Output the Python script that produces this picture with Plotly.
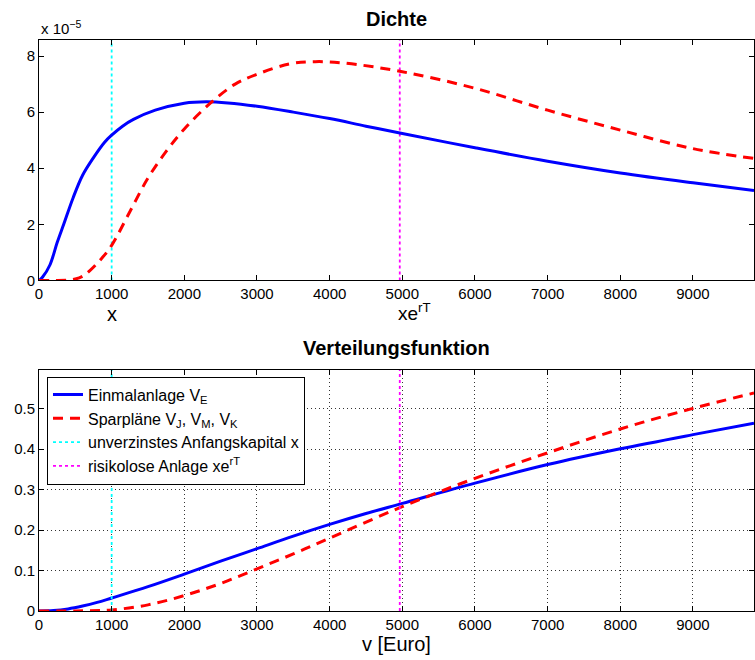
import plotly.graph_objects as go
from plotly.subplots import make_subplots

# ---- data ----
# Density, in units of 1e-5
dens_blue_v = [0, 50, 150, 250, 340, 470, 600, 750, 900, 1000, 1150, 1300, 1600, 2000, 2300, 2600,
               3000, 3500, 4000, 4500, 5000, 6000, 7000, 8000, 9000, 9840]
dens_blue = [0, 0.12, 0.55, 1.35, 2.0, 2.95, 3.75, 4.38, 4.92, 5.18, 5.5, 5.74, 6.07, 6.32, 6.37, 6.33,
             6.21, 6.0, 5.77, 5.5, 5.24, 4.73, 4.25, 3.83, 3.48, 3.21]
dens_red_v = [0, 200, 400, 500, 600, 700, 850, 1000, 1250, 1500, 1750, 2000, 2350, 2700, 3000, 3450,
              3800, 4200, 5000, 6000, 7000, 8000, 9000, 9840]
dens_red = [0, 0, 0.01, 0.05, 0.15, 0.35, 0.75, 1.25, 2.45, 3.65, 4.6, 5.4, 6.3, 7.0, 7.35, 7.72,
            7.8, 7.75, 7.44, 6.85, 6.07, 5.36, 4.70, 4.35]

# Distribution function
cdf_blue_v = [0, 200, 400, 600, 800, 1000, 1500, 2000, 2500, 3000, 3500, 4000, 4500, 5000,
              6000, 7000, 8000, 9000, 9840]
cdf_blue = [0, 0.001, 0.005, 0.012, 0.021, 0.032, 0.06, 0.091, 0.123, 0.154, 0.185, 0.214,
            0.241, 0.266, 0.316, 0.362, 0.401, 0.436, 0.464]
cdf_red_v = [0, 500, 700, 1000, 1500, 2000, 2500, 3000, 3500, 4000, 5000, 6000, 7000, 8000,
             9000, 9840]
cdf_red = [0, 0.0001, 0.0004, 0.0025, 0.015, 0.038, 0.068, 0.104, 0.141, 0.18, 0.258, 0.328,
           0.391, 0.45, 0.501, 0.539]

x_capital = 1000      # unverzinstes Anfangskapital x
x_riskfree = 4965     # risikolose Anlage x e^{rT}

x_ticks = [0, 1000, 2000, 3000, 4000, 5000, 6000, 7000, 8000, 9000]
dens_ticks = [0, 2, 4, 6, 8]
cdf_ticks = [0, 0.1, 0.2, 0.3, 0.4, 0.5]

x_range = [0, 9840]
dens_range = [0, 8.57]
cdf_range = [0, 0.597]

names = ["Einmalanlage V<sub>E</sub>",
         "Sparpläne V<sub>J</sub>, V<sub>M</sub>, V<sub>K</sub>",
         "unverzinstes Anfangskapital x",
         "risikolose Anlage xe<sup>rT</sup>"]

BLUE = "#0000FF"
RED = "#FF0000"
CYAN = "#00FFFF"
MAG = "#FF00FF"
FONT = "Liberation Sans, Arial, Helvetica, sans-serif"

W, H = 755, 669
REF_H = 660
L, R = 39, 0

fig = make_subplots(rows=2, cols=1)

# top: density
fig.add_trace(go.Scatter(x=[x_capital, x_capital], y=dens_range, mode="lines",
                         line=dict(color=CYAN, width=1.8, dash="dot"), showlegend=False), 1, 1)
fig.add_trace(go.Scatter(x=[x_riskfree, x_riskfree], y=dens_range, mode="lines",
                         line=dict(color=MAG, width=1.8, dash="dot"), showlegend=False), 1, 1)
fig.add_trace(go.Scatter(x=dens_blue_v, y=dens_blue, mode="lines", line_shape="spline",
                         line=dict(color=BLUE, width=3), showlegend=False), 1, 1)
fig.add_trace(go.Scatter(x=dens_red_v, y=dens_red, mode="lines", line_shape="spline",
                         line=dict(color=RED, width=3, dash="10px,7px"), showlegend=False), 1, 1)

# bottom: CDF
fig.add_trace(go.Scatter(x=cdf_blue_v, y=cdf_blue, mode="lines", line_shape="spline",
                         name=names[0], line=dict(color=BLUE, width=3)), 2, 1)
fig.add_trace(go.Scatter(x=cdf_red_v, y=cdf_red, mode="lines", line_shape="spline",
                         name=names[1], line=dict(color=RED, width=3, dash="10px,7px")), 2, 1)
fig.add_trace(go.Scatter(x=[x_capital, x_capital], y=cdf_range, mode="lines", name=names[2],
                         line=dict(color=CYAN, width=1.8, dash="dot")), 2, 1)
fig.add_trace(go.Scatter(x=[x_riskfree, x_riskfree], y=cdf_range, mode="lines", name=names[3],
                         line=dict(color=MAG, width=1.8, dash="dot")), 2, 1)

pw = W - L - R
def px_x(p):
    return (p - L) / pw
def px_y(p):
    return 1 - p / REF_H

axis_common = dict(showline=True, linecolor="black", linewidth=1, mirror="ticks",
                   ticks="inside", ticklen=5, tickcolor="black",
                   tickfont=dict(family=FONT, size=15, color="black"), zeroline=False)
grid = dict(showgrid=True, gridcolor="#333333", griddash="1px,3px", gridwidth=1)

fig.update_xaxes(range=x_range, tickvals=x_ticks, domain=[0, 1], **axis_common)
fig.update_xaxes(showgrid=False, row=1, col=1)
fig.update_xaxes(row=2, col=1, **grid)
fig.update_yaxes(range=dens_range, tickvals=dens_ticks, showgrid=False,
                 domain=[px_y(280), px_y(40)], row=1, col=1, **axis_common)
fig.update_yaxes(range=cdf_range, tickvals=cdf_ticks, ticktext=[f"{t:g}" for t in cdf_ticks],
                 domain=[px_y(610), px_y(369)], row=2, col=1, **axis_common, **grid)

ann = [
    dict(text="<b>Dichte</b>", x=0.5, y=px_y(19), xref="paper", yref="paper",
         yanchor="middle", showarrow=False, font=dict(family=FONT, size=20, color="black")),
    dict(text="<b>Verteilungsfunktion</b>", x=0.5, y=px_y(347), xref="paper", yref="paper",
         yanchor="middle", showarrow=False, font=dict(family=FONT, size=20, color="black")),
    dict(text="x 10<sup>−5</sup>", x=0, y=px_y(27), xref="paper", yref="paper",
         xanchor="left", yanchor="middle", showarrow=False,
         font=dict(family=FONT, size=15, color="black")),
    dict(text="x", x=x_capital, y=px_y(314), xref="x", yref="paper", yanchor="middle",
         showarrow=False, font=dict(family=FONT, size=20, color="black")),
    dict(text="xe<sup>rT</sup>", x=x_riskfree - 50, y=px_y(312), xref="x", yref="paper",
         xanchor="left", yanchor="middle", showarrow=False,
         font=dict(family=FONT, size=19, color="black")),
    dict(text="v [Euro]", x=px_x(397), y=px_y(643), xref="paper", yref="paper",
         yanchor="middle", showarrow=False, font=dict(family=FONT, size=20, color="black")),
]

fig.update_layout(
    width=W, height=H,
    margin=dict(l=L, r=R, t=0, b=0),
    paper_bgcolor="white", plot_bgcolor="white",
    font=dict(family=FONT, size=15, color="black"),
    annotations=ann,
    legend=dict(x=px_x(47), y=px_y(376), xanchor="left", yanchor="top",
                bgcolor="white", bordercolor="black", borderwidth=1,
                font=dict(family=FONT, size=16, color="black"),
                itemwidth=30, tracegroupgap=0),
)

post = (
    "document.documentElement.style.margin='0';"
    "document.documentElement.style.padding='0';"
    "document.documentElement.style.overflow='hidden';"
    "document.body.style.margin='0';"
    "document.body.style.padding='0';"
    "document.body.style.overflow='hidden';"
    "var gd=document.getElementsByClassName('plotly-graph-div')[0];"
    "gd.style.position='absolute';gd.style.top='0px';gd.style.left='0px';"
)
fig.write_html("out.html", config={"displayModeBar": False}, post_script=post)
